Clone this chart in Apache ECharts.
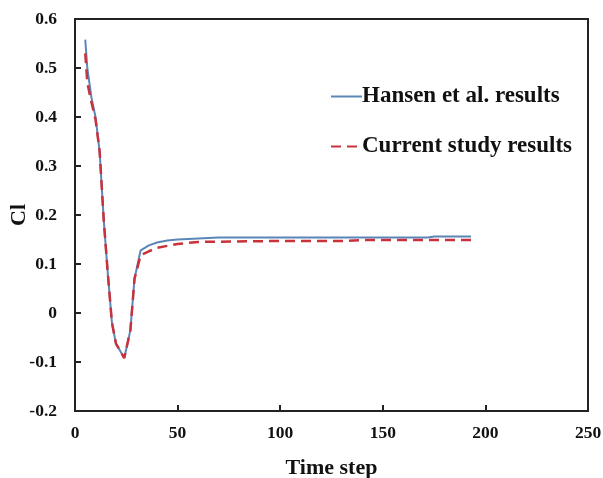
<!DOCTYPE html>
<html><head><meta charset="utf-8">
<script src="https://cdn.jsdelivr.net/npm/echarts@6/dist/echarts.min.js"></script>
<style>html,body{margin:0;padding:0;background:#fff}#c{width:603px;height:478px}</style>
</head><body><div id="c"></div>
<script>
var hansenX = [5,6,8,10,12,14,16,18,20,24,27,29,32,36,40,45,50,60,70,100,150,172,175,193];
var hansenY = [0.558,0.50,0.44,0.40,0.33,0.19,0.08,-0.02,-0.063,-0.092,-0.035,0.07,0.128,0.138,0.144,0.148,0.150,0.152,0.154,0.154,0.154,0.154,0.156,0.156];
var currentX = [5,6,8,10,12,14,16,18,20,24,27,29,32,36,40,45,50,60,100,130,142,193];
var currentY = [0.53,0.47,0.43,0.395,0.33,0.19,0.08,-0.02,-0.063,-0.092,-0.035,0.07,0.118,0.126,0.133,0.137,0.141,0.145,0.147,0.147,0.149,0.149];
var xTicks = [0,50,100,150,200,250];
var yTicks = [-0.2,-0.1,0,0.1,0.2,0.3,0.4,0.5,0.6];

function pairs(xs, ys){ return xs.map(function(x,i){return [x, ys[i]];}); }
var font = 'Liberation Serif';
var chart = echarts.init(document.getElementById('c'));
chart.setOption({
  animation:false,
  backgroundColor:'#fff',
  grid:{left:75,right:15,top:19,bottom:67,show:true,borderColor:'#222',borderWidth:2,backgroundColor:'transparent',
    outerBoundsMode:'none', containLabel:false},
  legend:{
    orient:'vertical', left:325, top:80, itemGap:27, itemWidth:31, itemHeight:14,
    itemStyle:{opacity:0},
    textStyle:{fontFamily:font,fontWeight:'bold',fontSize:23,color:'#111',padding:[0,0,0,-5]},
    data:['Hansen et al. results','Current study results']
  },
  xAxis:{
    type:'value', min:0, max:250, interval:50,
    name:'Time step', nameLocation:'middle', nameGap:46, nameMoveOverlap:false,
    nameTextStyle:{fontFamily:font,fontWeight:'bold',fontSize:22,color:'#111'},
    axisLine:{show:true,onZero:false,lineStyle:{color:'#222',width:2}},
    axisTick:{show:true,inside:true,length:6,lineStyle:{color:'#222',width:2}},
    axisLabel:{fontFamily:font,fontWeight:'bold',fontSize:17.5,color:'#111',margin:13,
      formatter:function(v){return xTicks.indexOf(v)>=0?String(v):'';}},
    splitLine:{show:false}
  },
  yAxis:{
    type:'value', min:-0.2, max:0.6, interval:0.1,
    name:'Cl', nameLocation:'middle', nameGap:45, nameMoveOverlap:false,
    nameTextStyle:{fontFamily:font,fontWeight:'bold',fontSize:22,color:'#111'},
    axisLine:{show:true,onZero:false,lineStyle:{color:'#222',width:2}},
    axisTick:{show:true,inside:true,length:6,lineStyle:{color:'#222',width:2}},
    axisLabel:{fontFamily:font,fontWeight:'bold',fontSize:17.5,color:'#111',margin:18,
      formatter:function(v){var r=Math.round(v*10)/10; return String(r);}},
    splitLine:{show:false}
  },
  series:[
    {name:'Hansen et al. results', type:'line', data:pairs(hansenX,hansenY), showSymbol:false, symbol:'none',
      lineStyle:{color:'#5b86b8',width:2}, itemStyle:{color:'#5b86b8'}},
    {name:'Current study results', type:'line', data:pairs(currentX,currentY), showSymbol:false, symbol:'none',
      lineStyle:{color:'#c8323c',width:2.5,type:[10,6]}, itemStyle:{color:'#c8323c'}}
  ]
});
</script></body></html>
